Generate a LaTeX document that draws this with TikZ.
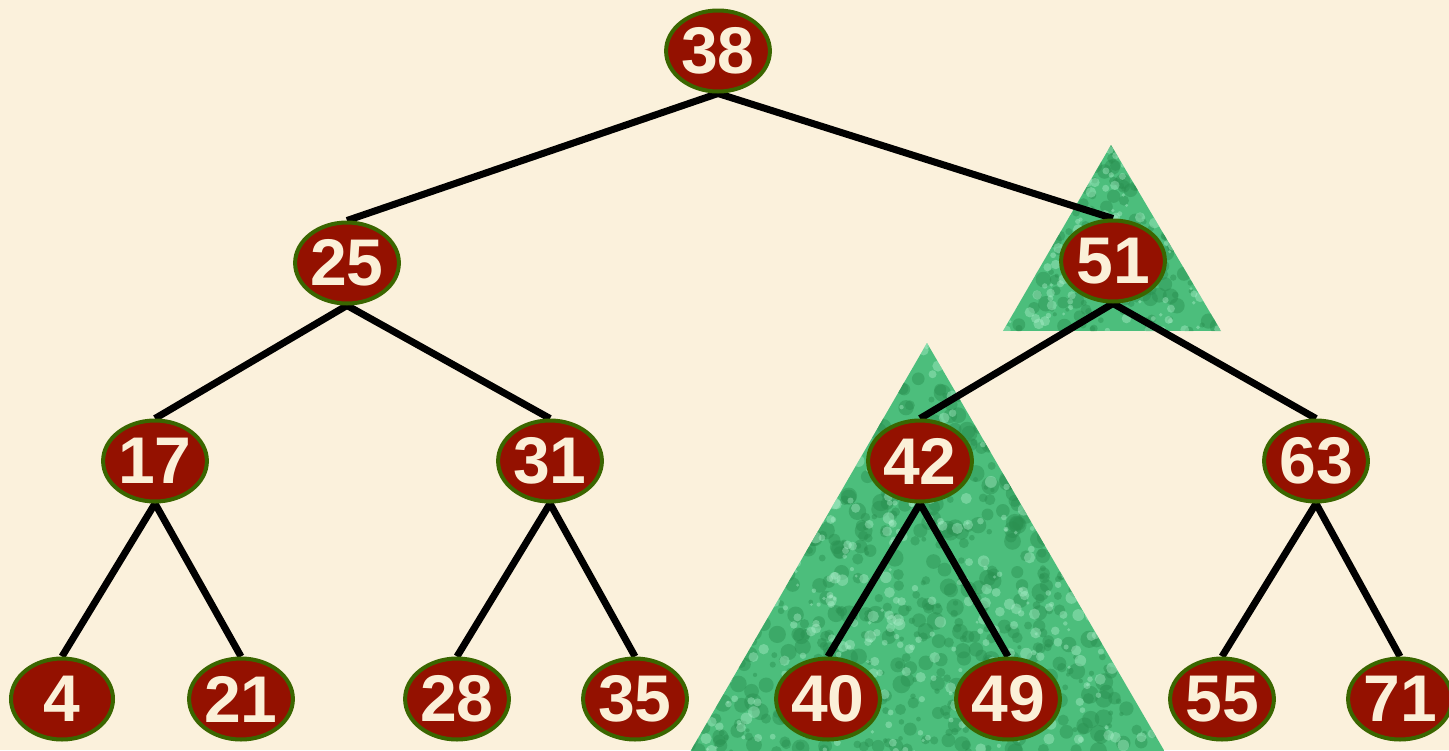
\documentclass[tikz,border=0pt]{standalone}
\usepackage{fontspec}
\setmainfont{Liberation Sans}
\usetikzlibrary{shapes.geometric}
\definecolor{bg}{HTML}{FBF1DC}
\definecolor{nodefill}{HTML}{941100}
\definecolor{nodeedge}{HTML}{3A6600}
\definecolor{txt}{HTML}{FBF0D8}
\definecolor{grn}{HTML}{4CBE7C}
\definecolor{grnd}{HTML}{2A9050}
\definecolor{grnl}{HTML}{B0F2CE}
\pgfdeclarelayer{tri}
\pgfdeclarelayer{edges}
\pgfsetlayers{tri,edges,main}
\begin{document}
\begin{tikzpicture}[x=1pt,y=-1pt,
  key/.style={ellipse, draw=nodeedge, line width=4pt, fill=nodefill, text=txt,
    font=\fontsize{66}{66}\selectfont\bfseries, minimum width=102pt, minimum height=81pt, inner sep=0pt},
  edge/.style={line width=7pt, black},
  texture/.style={fill=grn},
  blobd/.style={fill=grnd, opacity=0.45},
  blobl/.style={fill=grnl, opacity=0.4}]
\useasboundingbox (0,0) rectangle (1449,750);
\begin{pgfonlayer}{tri}
\fill[bg] (0,0) rectangle (1449,750);
% small triangle behind 51
\begin{scope}
  \clip (1111,145) -- (1221,331) -- (1003,331) -- cycle;
  \fill[texture] (1003,145) rectangle (1221,331);
  \pgfmathsetseed{11}
  \foreach \i in {1,...,260}{
    \pgfmathsetmacro\px{1003+218*rnd}\pgfmathsetmacro\py{145+186*rnd}\pgfmathsetmacro\pr{2+6*rnd}
    \fill[blobd] (\px,\py) circle[radius=\pr];
  }
  \foreach \i in {1,...,170}{
    \pgfmathsetmacro\px{1003+218*rnd}\pgfmathsetmacro\py{145+186*rnd}\pgfmathsetmacro\pr{1.5+4*rnd}
    \fill[blobl] (\px,\py) circle[radius=\pr];
  }
\end{scope}
% big triangle behind 42
\begin{scope}
  \clip (927,343) -- (1165,752) -- (690,752) -- cycle;
  \fill[texture] (690,343) rectangle (1165,752);
  \pgfmathsetseed{5}
  \foreach \i in {1,...,900}{
    \pgfmathsetmacro\px{690+475*rnd}\pgfmathsetmacro\py{343+409*rnd}\pgfmathsetmacro\pr{2+7*rnd}
    \fill[blobd] (\px,\py) circle[radius=\pr];
  }
  \foreach \i in {1,...,600}{
    \pgfmathsetmacro\px{690+475*rnd}\pgfmathsetmacro\py{343+409*rnd}\pgfmathsetmacro\pr{1.5+4.5*rnd}
    \fill[blobl] (\px,\py) circle[radius=\pr];
  }
\end{scope}
\end{pgfonlayer}
% nodes
\node[key] (n38) at (718,51) {38};
\node[key] (n25) at (347,263) {25};
\node[key] (n51) at (1113,261) {51};
\node[key] (n17) at (155,461) {17};
\node[key] (n31) at (550,461) {31};
\node[key] (n42) at (920,461) {42};
\node[key] (n63) at (1316,461) {63};
\node[key] (n4)  at (62,699) {4};
\node[key] (n21) at (241,699) {21};
\node[key] (n28) at (457,699) {28};
\node[key] (n35) at (635,699) {35};
\node[key] (n40) at (828,699) {40};
\node[key] (n49) at (1008,699) {49};
\node[key] (n55) at (1222,699) {55};
\node[key] (n71) at (1400,699) {71};
% edges
\begin{pgfonlayer}{edges}
\draw[edge] (n38.south) -- (n25.north);
\draw[edge] (n38.south) -- (n51.north);
\draw[edge] (n25.south) -- (n17.north);
\draw[edge] (n25.south) -- (n31.north);
\draw[edge] (n51.south) -- (n42.north);
\draw[edge] (n51.south) -- (n63.north);
\draw[edge] (n17.south) -- (n4.north);
\draw[edge] (n17.south) -- (n21.north);
\draw[edge] (n31.south) -- (n28.north);
\draw[edge] (n31.south) -- (n35.north);
\draw[edge] (n42.south) -- (n40.north);
\draw[edge] (n42.south) -- (n49.north);
\draw[edge] (n63.south) -- (n55.north);
\draw[edge] (n63.south) -- (n71.north);
\end{pgfonlayer}
\end{tikzpicture}
\end{document}
